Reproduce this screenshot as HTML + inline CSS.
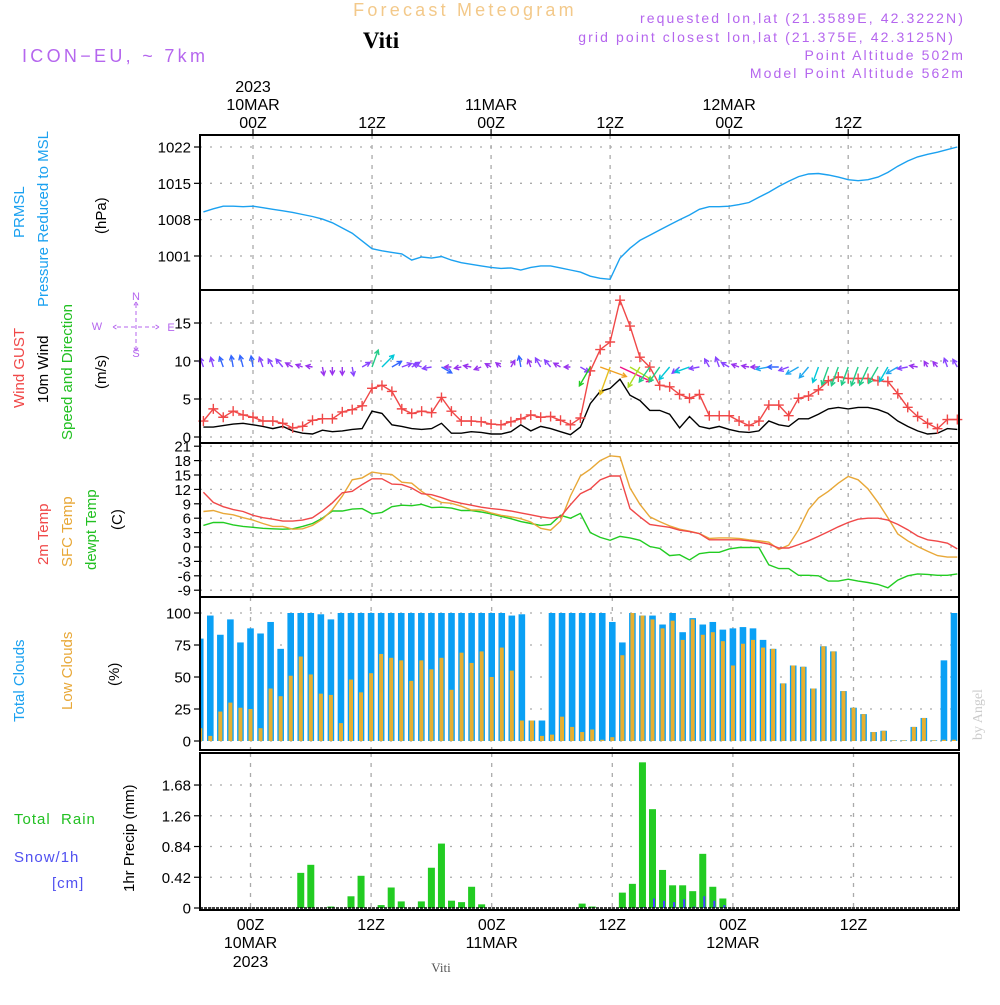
<!DOCTYPE html>
<html><head><meta charset="utf-8"><style>
body{margin:0;background:#fff;width:1000px;height:1000px;overflow:hidden}
svg text{font-family:"Liberation Sans",sans-serif}
</style></head><body>
<svg id="c" width="1000" height="1000" xmlns="http://www.w3.org/2000/svg">
<g>
<text x="465" y="16" font-size="18" fill="#f3c98a" text-anchor="middle" letter-spacing="3.2">Forecast Meteogram</text>
<text x="381" y="48" font-size="23" font-weight="bold" fill="#000" text-anchor="middle" style="font-family:'Liberation Serif',serif">Viti</text>
<text x="22" y="62" font-size="18" fill="#b566ee" letter-spacing="3.3">ICON−EU, ~ 7km</text>
<text x="965" y="23" font-size="14" fill="#b566ee" text-anchor="end" letter-spacing="2.1">requested lon,lat (21.3589E, 42.3222N)</text>
<text x="955" y="42" font-size="14" fill="#b566ee" text-anchor="end" letter-spacing="2.1">grid point closest lon,lat (21.375E, 42.3125N)</text>
<text x="965" y="60" font-size="14" fill="#b566ee" text-anchor="end" letter-spacing="2.1">Point Altitude 502m</text>
<text x="965" y="78" font-size="14" fill="#b566ee" text-anchor="end" letter-spacing="2.1">Model Point Altitude 562m</text>
</g>
<g font-size="15">
<text transform="translate(24,238) rotate(-90)" fill="#1ba1f0">PRMSL</text>
<text transform="translate(48,307) rotate(-90)" fill="#1ba1f0">Pressure Reduced to MSL</text>
<text transform="translate(106,234) rotate(-90)" fill="#000">(hPa)</text>
<text transform="translate(24,408) rotate(-90)" fill="#f04848">Wind GUST</text>
<text transform="translate(48,403) rotate(-90)" fill="#000">10m Wind</text>
<text transform="translate(72,440) rotate(-90)" fill="#22c022">Speed and Direction</text>
<text transform="translate(106,389) rotate(-90)" fill="#000">(m/s)</text>
<text transform="translate(48,565) rotate(-90)" fill="#f04848">2m Temp</text>
<text transform="translate(72,567) rotate(-90)" fill="#e8a838">SFC Temp</text>
<text transform="translate(96,570) rotate(-90)" fill="#22c022">dewpt Temp</text>
<text transform="translate(122,530) rotate(-90)" fill="#000">(C)</text>
<text transform="translate(24,722) rotate(-90)" fill="#1ba1f0">Total Clouds</text>
<text transform="translate(72,710) rotate(-90)" fill="#e8a838">Low Clouds</text>
<text transform="translate(119,686) rotate(-90)" fill="#000">(%)</text>
<text x="14" y="824" fill="#22c022" letter-spacing="1" xml:space="preserve">Total  Rain</text>
<text x="14" y="862" fill="#5050f0" letter-spacing="1">Snow/1h</text>
<text x="52" y="888" fill="#5050f0" letter-spacing="1">[cm]</text>
<text transform="translate(134,892) rotate(-90)" fill="#000">1hr Precip (mm)</text>
<g fill="#b566ee" font-size="11" text-anchor="middle">
<text x="136" y="300">N</text><text x="136" y="357">S</text><text x="97" y="330">W</text><text x="171" y="331">E</text>
<path d="M136 304V350M117 327H155M113 327l5-3M113 327l5 3M159 327l-5-3M159 327l-5 3M136 302l-3 5M136 302l3 5M136 351l-3-5M136 351l3-5" stroke="#b566ee" stroke-width="1" fill="none" stroke-dasharray="4,3"/>
</g>
</g>
<text transform="translate(982,740) rotate(-90)" font-size="14" fill="#ccc" style="font-family:'Liberation Serif',serif">by Angel</text>
<text x="441" y="972" font-size="13" fill="#555" text-anchor="middle" style="font-family:'Liberation Serif',serif">Viti</text>
<g id="plot"></g>
</svg>
<script>
const hours = [];
for (let h = -5; h <= 71; h++) hours.push(h);
const pressure = [1009.5,1010.1,1010.6,1010.6,1010.5,1010.6,1010.3,1010,1009.7,1009.4,1009,1008.6,1008.1,1007.4,1006.4,1005.4,1003.9,1002.4,1002,1001.7,1001.4,1000.2,1000.8,1000.6,1000.9,1000.2,999.7,999.4,999.1,998.8,998.6,998.7,998.3,998.8,999.1,999.1,998.7,998.3,997.9,997.1,996.7,996.5,1000.6,1002.5,1004,1005,1006,1007,1008,1008.9,1010,1010.5,1010.5,1010.6,1010.9,1011.3,1012.3,1013.3,1014.4,1015.4,1016.3,1016.8,1016.9,1016.6,1016.2,1015.7,1015.5,1015.7,1016.2,1017.1,1018.3,1019.3,1020.1,1020.6,1021,1021.5,1022];
const gust = [2.1,3.7,2.6,3.4,2.9,2.6,2.1,2.1,1.8,1.2,1.4,2.2,2.4,2.4,3.3,3.6,4.1,6.4,6.8,6.0,3.7,3.1,3.4,3.2,5.2,3.4,2.1,2.1,2.0,1.7,1.6,2.0,2.4,2.9,2.6,2.7,2.2,1.6,2.5,8.7,11.5,12.5,18.0,14.6,10.5,9.2,6.8,6.6,5.6,5.1,5.6,2.8,2.8,2.8,2.1,1.5,2.1,4.2,4.2,2.8,5.1,5.4,6.2,7.4,7.9,7.7,7.7,7.7,7.4,7.3,5.7,3.9,2.7,1.8,1.1,2.3,2.3];
const wind = [1.3,1.3,1.5,1.7,1.8,1.6,1.4,1.1,1.4,0.8,0.5,0.4,0.9,0.7,0.8,1.0,1.1,3.4,3.1,1.6,1.4,1.1,1.0,1.1,1.8,0.5,0.5,0.7,0.6,0.4,0.4,0.7,1.6,0.8,1.4,1.1,0.7,0.3,1.3,4.4,6.0,6.4,7.6,5.5,4.8,3.5,3.5,3.0,1.2,2.7,1.4,1.1,1.4,1.0,0.7,0.6,0.8,2.1,1.6,1.4,2.4,2.4,3.0,3.7,3.9,3.7,3.9,3.9,3.6,3.1,2.1,1.4,0.8,0.4,0.5,1.1,1.0];
const windDir = [-20,-15,-20,-10,-15,-10,-20,-30,-40,-60,-70,-80,170,180,180,170,60,20,45,60,70,60,-70,-100,120,-90,-100,-80,-110,-60,-50,30,-10,-20,-30,-40,-60,-90,120,210,110,200,115,120,210,215,215,220,230,-110,-100,-30,-20,-60,-70,-80,-90,-100,-90,-110,-120,-140,200,200,200,200,200,205,210,210,-120,-100,-80,-30,-40,-20,-30];
const temp2m = [11.4,9.3,8.4,7.8,7.4,6.6,6.1,5.8,5.4,5.4,5.6,6.1,7.5,9.2,11.3,11.6,13.0,14.2,14.2,13.1,13.0,12.3,11.1,10.9,10.3,9.6,9.1,8.7,8.3,8.0,7.8,7.5,7.1,6.7,6.3,6.0,6.3,8.8,11.1,12.1,14.0,14.8,14.8,8.0,6.3,4.7,4.4,4.1,3.5,3.2,2.8,1.5,1.5,1.5,1.5,1.3,1.0,0.6,-0.2,-0.2,0.5,1.3,2.2,3.2,4.2,5.1,5.8,6.0,6.0,5.6,4.7,3.6,2.3,1.5,1.2,0.8,-0.4];
const sfcTemp = [7.4,7.6,7.0,6.7,6.1,5.6,4.9,4.3,4.3,3.7,3.8,4.5,5.8,7.8,10.6,14.0,14.4,15.6,15.3,15.1,13.5,13.3,11.6,10.2,9.3,9.1,8.5,7.7,7.7,7.1,6.6,6.3,5.9,5.2,3.9,3.5,5.4,10.6,14.8,16.2,18.0,19.0,18.8,12.3,8.9,6.3,5.3,4.4,3.7,3.3,2.8,1.8,1.9,1.9,1.8,1.5,1.3,1.0,-0.5,0.4,3.6,7.8,10.2,11.6,13.3,14.7,14.0,12.1,9.3,6.1,2.7,1.3,0.1,-0.9,-1.8,-2.1,-2.1];
const dewpt = [4.5,5.1,5.1,4.6,4.3,4.1,3.9,3.8,3.7,3.8,4.3,4.9,6.0,7.5,7.5,7.9,8.0,6.9,7.2,8.4,8.7,8.6,8.9,8.2,8.3,8.1,7.6,7.6,7.3,6.9,6.4,5.9,5.3,4.9,4.5,4.7,6.6,6.0,7.0,3.0,2.0,1.4,2.2,1.9,1.4,0.1,-0.3,-1.8,-1.6,-2.7,-1.4,-1.1,-1.1,-0.4,-0.1,-0.1,-0.1,-3.7,-4.5,-4.5,-5.9,-5.9,-6.0,-7.1,-7.1,-6.7,-7.1,-7.4,-7.8,-8.5,-6.9,-6.0,-5.6,-5.7,-5.9,-5.9,-5.6];
const cloudHours = [];
for (let h = -5; h <= 70; h++) cloudHours.push(h);
const totalClouds = [80,98,83,95,77,88,84,93,72,100,100,100,99,95,100,100,100,100,100,100,100,100,100,100,100,100,100,100,100,100,100,98,99,16,16,100,100,100,100,100,100,93,77,100,98,98,91,100,85,96,91,93,87,88,89,88,79,72,45,59,58,41,74,70,39,26,21,7,8,0.5,0.5,11,18,0.5,63,100];
const lowClouds = [10,4,23,30,26,25,10,41,35,51,66,52,37,36,14,48,38,53,68,65,63,47,63,56,65,40,69,61,70,50,73,55,16,16,4,5,19,11,7,9,1,3,67,100,98,95,88,94,79,95,83,85,78,59,76,79,73,72,45,59,58,41,74,70,39,26,21,7,8,0.5,0.5,11,18,0.5,1,1];
const rainHours = [5,6,8,10,11,13,14,15,17,18,19,20,21,22,23,33,34,37,38,39,40,41,42,43,44,45,46,47];
const rainValues = [0.48,0.59,0.02,0.16,0.44,0.04,0.28,0.09,0.09,0.55,0.88,0.10,0.08,0.29,0.05,0.06,0.02,0.21,0.33,1.99,1.35,0.52,0.31,0.31,0.23,0.74,0.29,0.13];
const snowHours = [39,40,41,42,43,44,45,46,47];
const snowValues = [0.01,0.13,0.10,0.08,0.12,0.02,0.16,0.10,0.04];
const pTicks = [1001,1008,1015,1022];
const wTicks = [0,5,10,15];
const tTicks = [21,18,15,12,9,6,3,0,-3,-6,-9];
const cTicks = [0,25,50,75,100];
const rTicks = [0,0.42,0.84,1.26,1.68];
const timeTicks = [0,12,24,36,48,60];

const NS = 'http://www.w3.org/2000/svg';
const plot = document.getElementById('plot');
const X0 = 200, X1 = 959;
const xL = h => 253 + h * 9.92;
const xB = h => 250.5 + h * 10.05;
const yP = v => 147 + (1022 - v) * 5.19;
const yW = v => 437 - v * 7.6;
const yT = v => 547 - v * 4.8;
const yC = v => 741 - v * 1.28;
const yR = v => 908 - v * 73.2;
function mk(tag, attrs, parent) {
  const e = document.createElementNS(NS, tag);
  for (const k in attrs) e.setAttribute(k, attrs[k]);
  (parent || plot).appendChild(e);
  return e;
}
const panels = [
  {name:'pressure-panel', top:135, bot:290, ticks:pTicks, y:yP, x:xL, fmt:v=>v},
  {name:'wind-panel', top:290, bot:443, ticks:wTicks, y:yW, x:xL, fmt:v=>v},
  {name:'temperature-panel', top:443, bot:597, ticks:tTicks, y:yT, x:xL, fmt:v=>v},
  {name:'clouds-panel', top:597, bot:750, ticks:cTicks, y:yC, x:xB, fmt:v=>v},
  {name:'precip-panel', top:753, bot:910, ticks:rTicks, y:yR, x:xB, fmt:v=>v===0?'0':v.toFixed(2)}
];
const groups = {};
panels.forEach(p => {
  const g = mk('g', {});
  
  
  groups[p.name] = g;
  const cp = mk('clipPath', {id: 'cp-' + p.name}, g);
  mk('rect', {x: X0, y: p.top, width: X1 - X0, height: p.bot - p.top}, cp);
  p.ticks.forEach(t => {
    const y = p.y(t);
    const gl = mk('line', {x1: X0, x2: X1, y1: y, y2: y, stroke: '#aaa', 'stroke-width': 1.3, 'stroke-dasharray': '2,8'}, g);
    
    
    mk('line', {x1: X0 - 6, x2: X0, y1: y, y2: y, stroke: '#000', 'stroke-width': 1.2}, g);
    const tx = mk('text', {x: X0 - 9, y: y + 5.5, 'font-size': 15, 'text-anchor': 'end', fill: '#000'}, g);
    tx.textContent = p.fmt(t);
    
    
  });
  timeTicks.forEach(h => {
    const x = p.x(h);
    const gl = mk('line', {x1: x, x2: x, y1: p.top, y2: p.bot, stroke: '#aaa', 'stroke-width': 1.3, 'stroke-dasharray': '4,6'}, g);
    
    
  });
});
function line(g, arr, hs, xf, yf, color, name, cp) {
  const d = arr.map((v, i) => (i ? 'L' : 'M') + xf(hs[i]).toFixed(1) + ' ' + yf(v).toFixed(1)).join('');
  const p = mk('path', {d: d, fill: 'none', stroke: color, 'stroke-width': 1.4, 'clip-path': 'url(#' + cp + ')'}, g);
  
  
  return p;
}
line(groups['pressure-panel'], pressure, hours, xL, yP, '#1ba1f0', 'pressure-line', 'cp-pressure-panel');
const gw = groups['wind-panel'];
line(gw, wind, hours, xL, yW, '#000', 'wind-speed-line', 'cp-wind-panel');
line(gw, gust, hours, xL, yW, '#f04848', 'wind-gust-line', 'cp-wind-panel');
gust.forEach((v, i) => {
  const x = xL(hours[i]), y = yW(v);
  const m = mk('path', {d: `M${x-5} ${y}H${x+5}M${x} ${y-5}V${y+5}`, stroke: '#f04848', 'stroke-width': 1.4}, gw);
  
  
});
function windColor(s) {
  if (s < 1.0) return '#9933ee';
  if (s < 1.5) return '#8844ff';
  if (s < 2.0) return '#3366ff';
  if (s < 2.6) return '#22a8f0';
  if (s < 3.2) return '#00c8d8';
  if (s < 4.0) return '#22cc88';
  if (s < 4.6) return '#22cc22';
  if (s < 5.6) return '#aadd22';
  if (s < 6.2) return '#f0a020';
  if (s < 7.0) return '#e8c020';
  return '#ee1188';
}
wind.forEach((s, i) => {
  const x = xL(hours[i]), y = 367;
  const a = windDir[i] * Math.PI / 180;
  const L = 5 + s * 3.8;
  const x2 = x + Math.sin(a) * L, y2 = y - Math.cos(a) * L;
  const hx1 = x2 - Math.sin(a - 0.5) * 5, hy1 = y2 + Math.cos(a - 0.5) * 5;
  const hx2 = x2 - Math.sin(a + 0.5) * 5, hy2 = y2 + Math.cos(a + 0.5) * 5;
  const ar = mk('path', {d: `M${x} ${y}L${x2} ${y2}M${hx1} ${hy1}L${x2} ${y2}L${hx2} ${hy2}`, stroke: windColor(s), 'stroke-width': 1.4, fill: 'none'}, gw);
  
  
});
const gt = groups['temperature-panel'];
line(gt, dewpt, hours, xL, yT, '#22cc22', 'dewpoint-line', 'cp-temperature-panel');
line(gt, sfcTemp, hours, xL, yT, '#e8a838', 'sfc-temp-line', 'cp-temperature-panel');
line(gt, temp2m, hours, xL, yT, '#f04848', 'temp-2m-line', 'cp-temperature-panel');
const gc = groups['clouds-panel'];
totalClouds.forEach((v, i) => {
  const x = xB(cloudHours[i]);
  const b = mk('rect', {x: x - 3.3, y: yC(v), width: 6.6, height: yC(0) - yC(v), fill: '#0aa0f5', 'clip-path': 'url(#cp-clouds-panel)'}, gc);
  
  
});
lowClouds.forEach((v, i) => {
  const x = xB(cloudHours[i]);
  const b = mk('rect', {x: x - 2, y: yC(v), width: 4, height: yC(0) - yC(v), fill: '#e8b030', 'clip-path': 'url(#cp-clouds-panel)'}, gc);
  
  
});
const gr = groups['precip-panel'];
rainValues.forEach((v, i) => {
  const x = xB(rainHours[i]);
  const b = mk('rect', {x: x - 3.5, y: yR(v), width: 7, height: yR(0) - yR(v), fill: '#22cc22'}, gr);
  
  
});
snowValues.forEach((v, i) => {
  const x = xB(snowHours[i]);
  const b = mk('rect', {x: x + 0.5, y: yR(v), width: 2, height: yR(0) - yR(v), fill: '#4444ff'}, gr);
  
  
});
mk('line', {x1: X0, x2: X1, y1: yR(0), y2: yR(0), stroke: '#000', 'stroke-width': 1.5, 'stroke-dasharray': '3,1'}, gr);
panels.forEach(p => {
  const f = mk('rect', {x: X0, y: p.top, width: X1 - X0, height: p.bot - p.top, fill: 'none', stroke: '#000', 'stroke-width': 2});
  
  
});
const topDays = {0: ['2023', '10MAR'], 24: ['11MAR'], 48: ['12MAR']};
const bottomDays = {0: ['10MAR', '2023'], 24: ['11MAR'], 48: ['12MAR']};
timeTicks.forEach(h => {
  const x = xL(h);
  mk('line', {x1: x, x2: x, y1: 129, y2: 135, stroke: '#000', 'stroke-width': 1.2});
  const t = mk('text', {x: x, y: 128, 'font-size': 16, 'text-anchor': 'middle'});
  t.textContent = (h % 24 === 0) ? '00Z' : '12Z';
  
  
  if (topDays[h]) {
    topDays[h].slice().reverse().forEach((s, j) => {
      const d = mk('text', {x: x, y: 110 - j * 18, 'font-size': 16, 'text-anchor': 'middle'});
      d.textContent = s;
      
      
    });
  }
  const xb = xB(h);
  const bt = mk('text', {x: xb, y: 930, 'font-size': 16, 'text-anchor': 'middle'});
  bt.textContent = (h % 24 === 0) ? '00Z' : '12Z';
  
  
  if (bottomDays[h]) bottomDays[h].forEach((s, j) => {
    const d = mk('text', {x: xb, y: 948 + j * 19, 'font-size': 16, 'text-anchor': 'middle'});
    d.textContent = s;
    
    
  });
});
</script>
</body></html>
